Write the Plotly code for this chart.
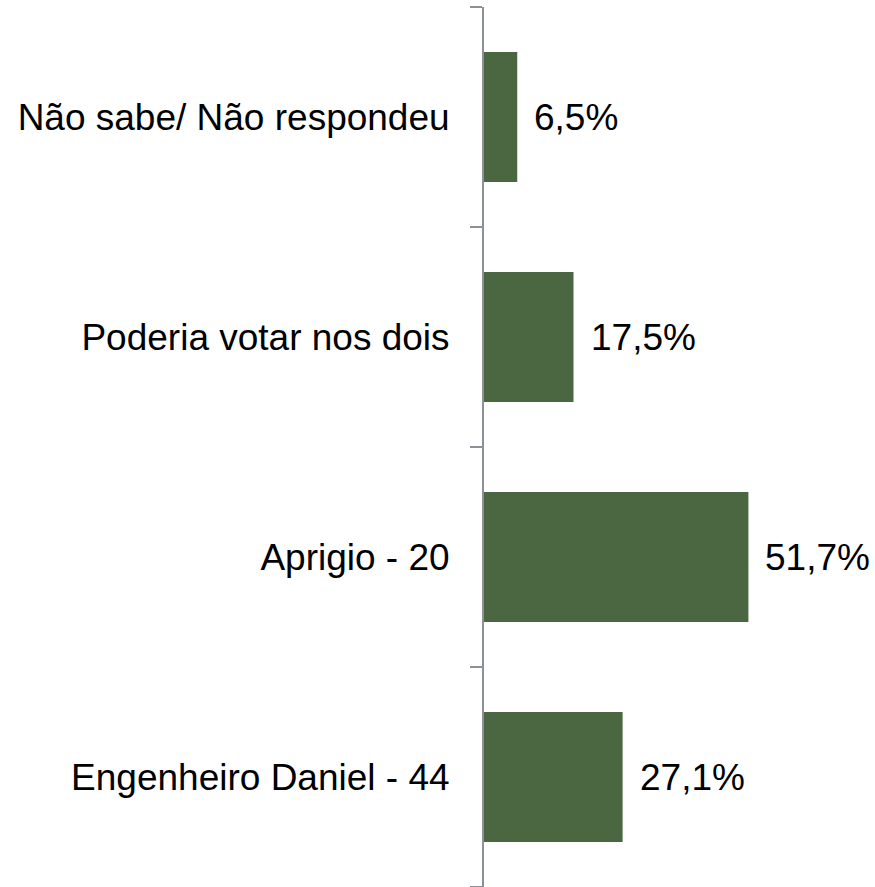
import plotly.graph_objects as go

categories = ["Engenheiro Daniel - 44", "Aprigio - 20", "Poderia votar nos dois", "Não sabe/ Não respondeu"]
values = [27.1, 51.7, 17.5, 6.5]
labels = ["27,1%", "51,7%", "17,5%", "6,5%"]

FONT = "Liberation Sans, Arial, sans-serif"

fig = go.Figure()
fig.add_trace(go.Bar(
    x=values, y=categories, orientation="h",
    marker=dict(color="#4A6741", line=dict(width=0)),
    width=0.59, hoverinfo="skip",
))

for v, c, t in zip(values, categories, labels):
    fig.add_annotation(x=v, y=c, text=t, showarrow=False, xanchor="left",
                       xshift=15, font=dict(family=FONT, size=37, color="#000000"))

fig.update_layout(
    width=875, height=887,
    margin=dict(l=484, r=33, t=7, b=0),
    paper_bgcolor="white", plot_bgcolor="white",
    showlegend=False,
    font=dict(family=FONT, size=37, color="#000000"),
    xaxis=dict(range=[0, 70], visible=False, showgrid=False, zeroline=False),
    yaxis=dict(
        categoryorder="array", categoryarray=categories,
        showline=True, linecolor="#8B9099", linewidth=2,
        ticks="outside", tickson="boundaries", ticklen=12, tickcolor="#8B9099", tickwidth=2,
        ticklabelstandoff=25,
        showgrid=False, zeroline=False, automargin=False,
        tickfont=dict(family=FONT, size=37, color="#000000"),
    ),
)

fig.write_html("out.html", config={"displayModeBar": False},
               post_script="document.body.style.margin='0';")
